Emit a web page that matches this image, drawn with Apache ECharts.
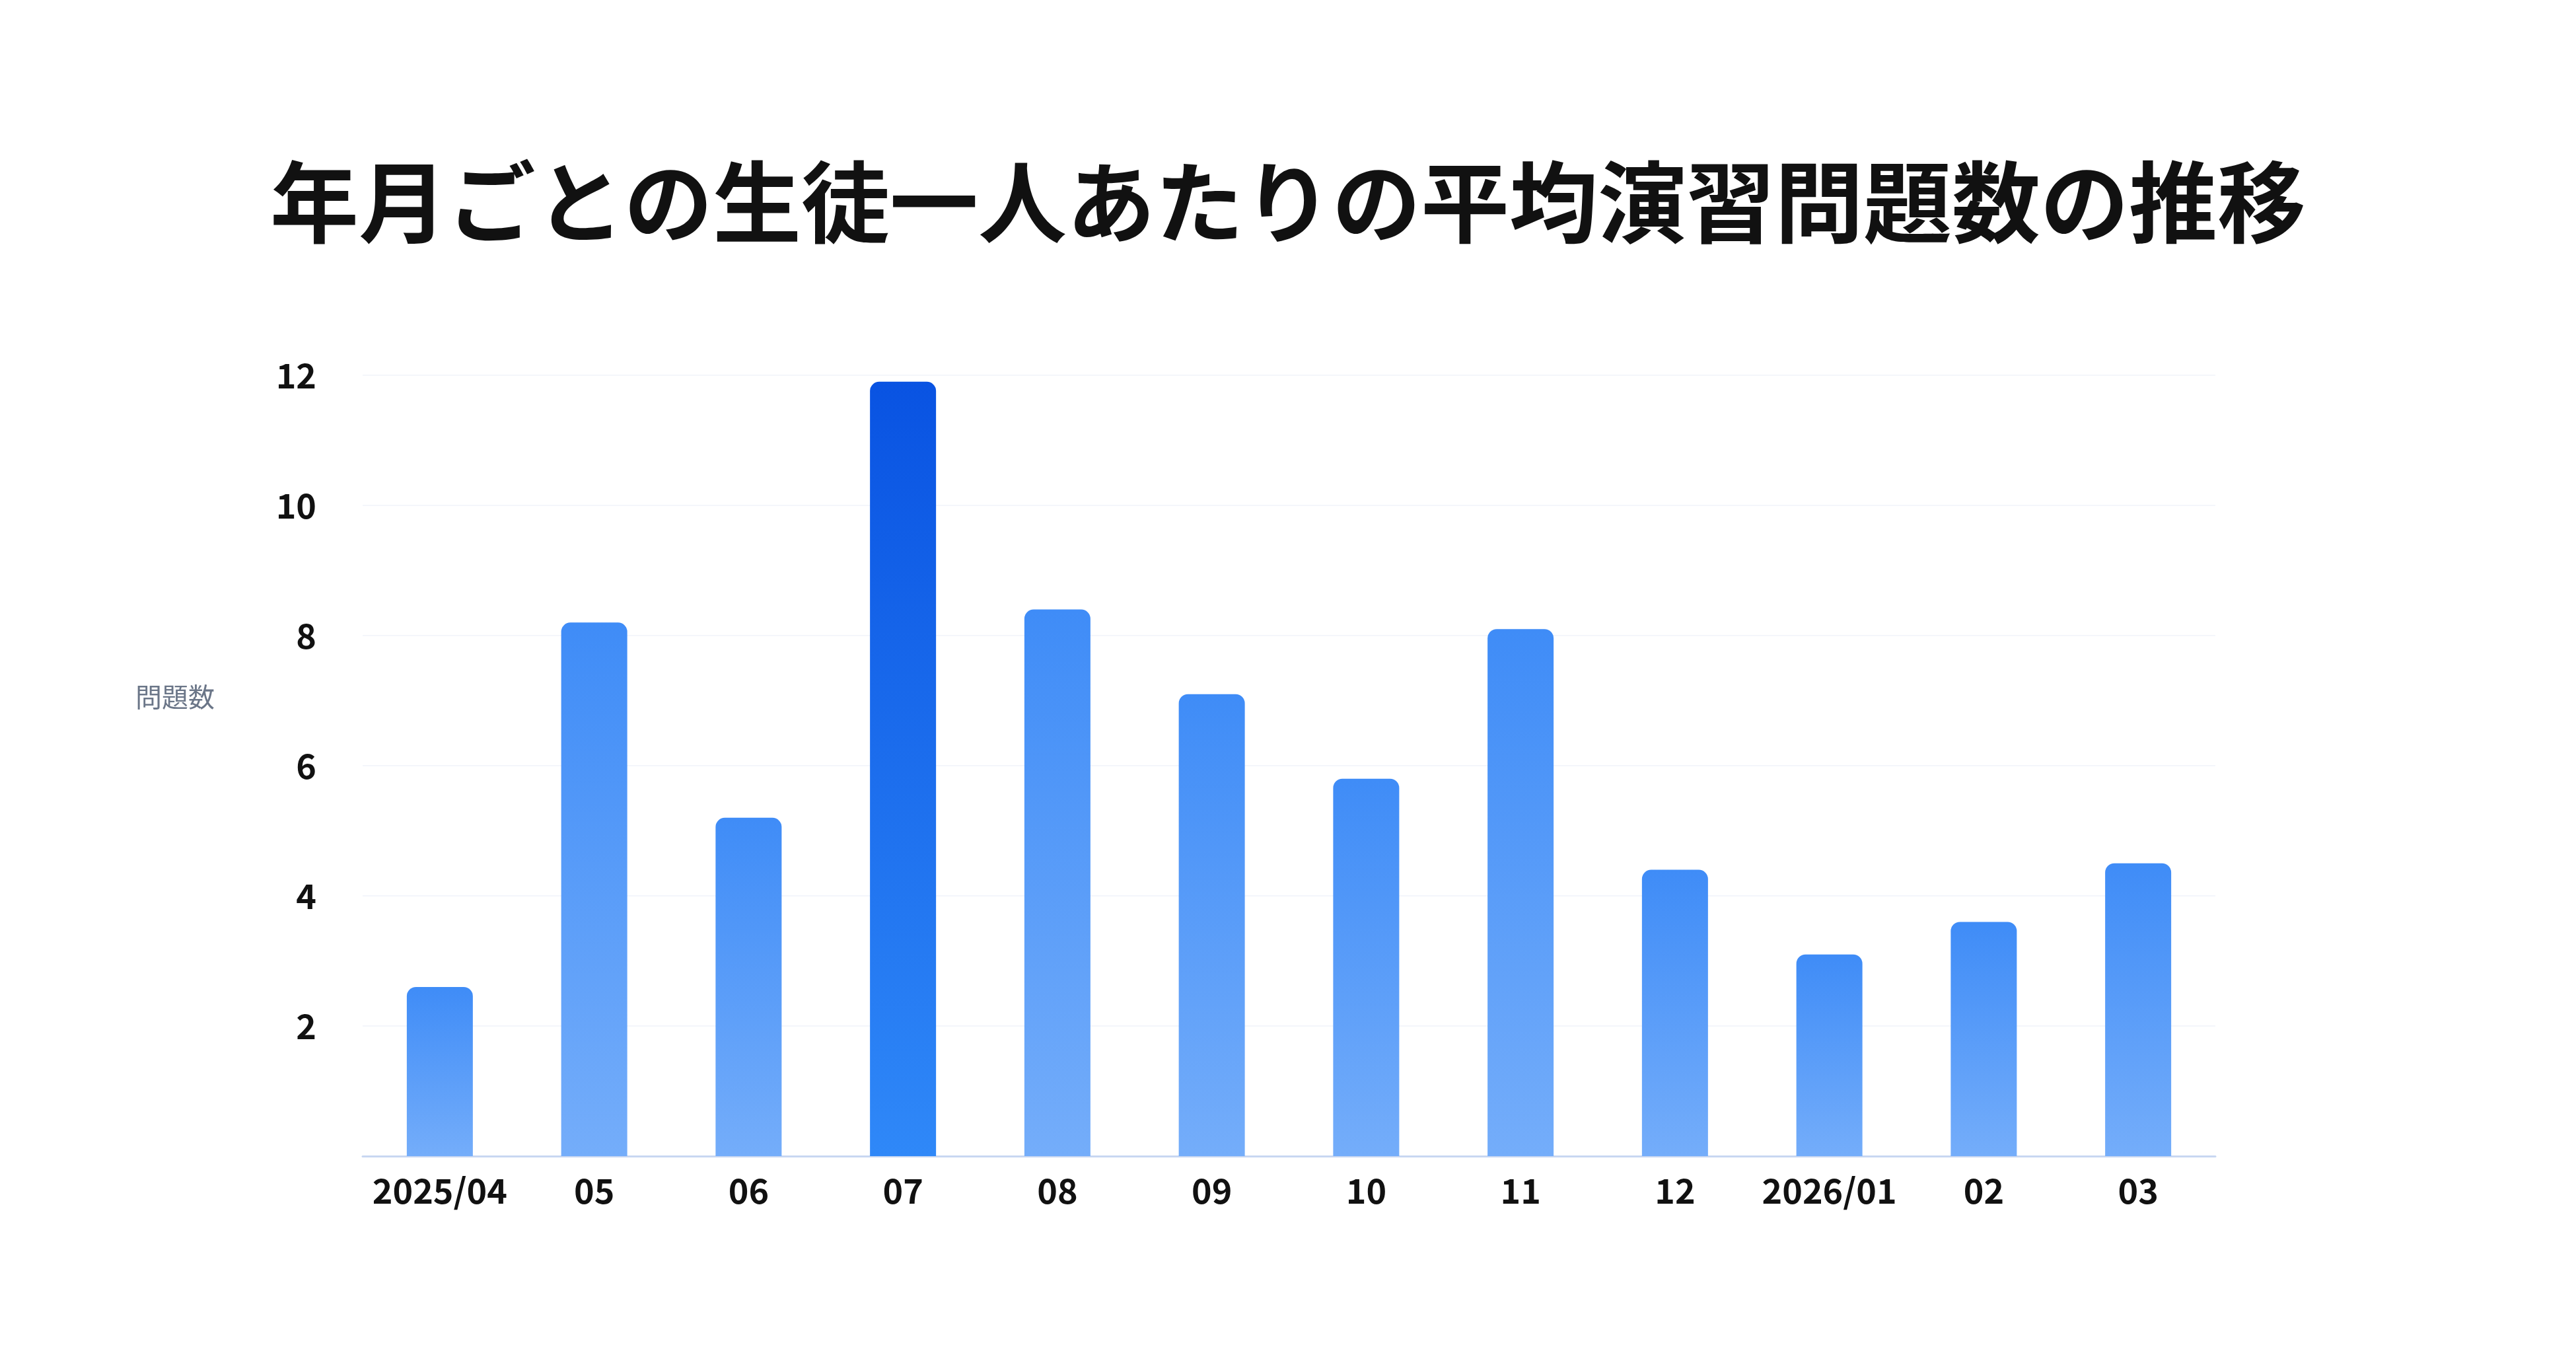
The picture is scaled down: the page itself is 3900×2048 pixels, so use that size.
<!DOCTYPE html>
<html>
<head>
<meta charset="utf-8">
<script src="https://cdn.jsdelivr.net/npm/echarts@6/dist/echarts.min.js"></script>
<style>
html,body{margin:0;padding:0;background:#ffffff;}
#chart{width:3900px;height:2048px;}
</style>
</head>
<body>
<div id="chart"></div>
<script>
const titleText = '年月ごとの生徒一人あたりの平均演習問題数の推移';
const yAxisName = '問題数';
const months = ['2025/04','05','06','07','08','09','10','11','12','2026/01','02','03'];
const avgProblems = [2.6, 8.2, 5.2, 11.9, 8.4, 7.1, 5.8, 8.1, 4.4, 3.1, 3.6, 4.5];
const yTicks = [0, 2, 4, 6, 8, 10, 12];

const maxVal = Math.max.apply(null, avgProblems);
const normalFill = new echarts.graphic.LinearGradient(0, 0, 0, 1, [
  {offset: 0, color: '#3f8cf7'},
  {offset: 1, color: '#74adfa'}
]);
const peakFill = new echarts.graphic.LinearGradient(0, 0, 0, 1, [
  {offset: 0, color: '#0953e2'},
  {offset: 1, color: '#2f88f8'}
]);
const barData = avgProblems.map(v => ({
  value: v,
  itemStyle: {color: v === maxVal ? peakFill : normalFill}
}));

const chart = echarts.init(document.getElementById('chart'), null, {renderer: 'canvas'});
chart.setOption({
  backgroundColor: '#ffffff',
  animation: false,
  textStyle: {fontFamily: '"Noto Sans CJK JP", "Noto Sans", sans-serif'},
  title: [{
    text: titleText,
    left: 'center',
    top: 234,
    textStyle: {
      fontSize: 134,
      fontWeight: 'bold',
      color: '#111111',
      fontFamily: '"Noto Sans CJK JP", sans-serif'
    }
  }, {
    text: yAxisName,
    left: 200,
    top: 1030,
    textStyle: {
      color: '#6b7688',
      fontSize: 40,
      fontWeight: 'normal',
      fontFamily: '"Noto Sans CJK JP", sans-serif'
    }
  }],
  grid: {left: 549, right: 546, top: 568, bottom: 298, containLabel: false},
  xAxis: {
    type: 'category',
    data: months,
    axisLine: {show: true, lineStyle: {color: '#c8d7f1', width: 3}},
    axisTick: {show: false},
    axisLabel: {
      color: '#111111',
      fontSize: 52,
      fontWeight: 'bold',
      margin: 26,
      interval: 0,
      fontFamily: '"Noto Sans CJK JP", sans-serif'
    },
    splitLine: {show: false}
  },
  yAxis: {
    type: 'value',
    min: yTicks[0],
    max: yTicks[yTicks.length - 1],
    interval: yTicks[1] - yTicks[0],
    axisLine: {show: false},
    axisTick: {show: false},
    axisLabel: {
      color: '#111111',
      fontSize: 52,
      fontWeight: 'bold',
      margin: 70,
      formatter: v => (v === 0 ? '' : String(v)),
      fontFamily: '"Noto Sans CJK JP", sans-serif'
    },
    splitLine: {show: true, lineStyle: {color: '#f4f6fb', width: 2}}
  },
  series: [{
    type: 'bar',
    name: yAxisName,
    data: barData,
    barWidth: 100,
    itemStyle: {borderRadius: [14, 14, 0, 0]}
  }]
});
</script>
</body>
</html>
